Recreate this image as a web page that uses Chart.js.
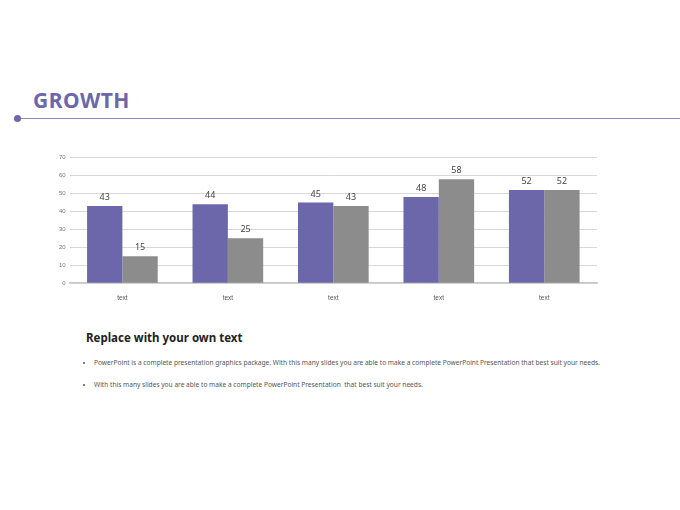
<!DOCTYPE html>
<html><head><meta charset="utf-8">
<script src="https://cdn.jsdelivr.net/npm/chart.js@4/dist/chart.umd.min.js"></script>
<style>
body{margin:0;width:680px;height:510px;background:#fff;font-family:"Noto Sans",sans-serif;position:relative;overflow:hidden}
#title{position:absolute;left:33px;top:86px;font-size:21px;font-weight:bold;color:#6b67aa;letter-spacing:0.5px}
#line{position:absolute;left:18px;top:118px;width:662px;height:1px;background:#8c88b8}
#dot{position:absolute;left:14px;top:115px;width:7px;height:7px;border-radius:50%;background:#6b67aa}
#wrap{position:absolute;left:55px;top:150px;width:550px;height:155px}
#txt{position:absolute;left:86px;top:330px;width:520px;color:#333}
h2{font-size:11.5px;margin:0 0 12px 0;font-weight:bold;color:#222}
ul{margin:0;padding-left:8px;font-size:6.6px;color:#555;line-height:11px}
li{margin-bottom:11px}
</style></head><body>
<div id="title">GROWTH</div><div id="line"></div><div id="dot"></div>
<div id="wrap"><canvas id="c"></canvas></div>
<div id="txt"><h2>Replace with your own text</h2>
<ul><li>PowerPoint is a complete presentation graphics package. With this many slides you are able to make a complete PowerPoint Presentation that best suit your needs.</li>
<li>With this many slides you are able to make a complete PowerPoint Presentation &nbsp;that best suit your needs.</li></ul></div>
<script>
const categories=["text","text","text","text","text"];
const series1=[43,44,45,48,52];
const series2=[15,25,43,58,52];
const labelsPlugin={id:'lbl',afterDatasetsDraw(ch){const ctx=ch.ctx;ctx.save();ctx.font='9px "Noto Sans"';ctx.fillStyle='#444';ctx.textAlign='center';ctx.textBaseline='bottom';
ch.data.datasets.forEach((d,i)=>{ch.getDatasetMeta(i).data.forEach((b,j)=>{ctx.fillText(d.data[j],b.x,b.y-4);});});ctx.restore();}};
new Chart(document.getElementById('c'),{type:'bar',
data:{labels:categories,datasets:[{data:series1,backgroundColor:'#6b67aa'},{data:series2,backgroundColor:'#8c8c8c'}]},
options:{responsive:true,maintainAspectRatio:false,animation:false,
layout:{padding:{top:5,right:8}},
datasets:{bar:{categoryPercentage:0.67,barPercentage:1}},
plugins:{legend:{display:false},tooltip:{enabled:false}},
scales:{y:{min:0,max:70,ticks:{stepSize:10,font:{size:6},color:'#777',padding:4},border:{display:false},grid:{color:'#d8d8d8',borderDash:[3,2],drawTicks:false}},
x:{ticks:{font:{size:6.5},color:'#555'},grid:{display:false},border:{color:'#c8c8c8',width:1.5}}}},
plugins:[labelsPlugin]});
</script></body></html>
